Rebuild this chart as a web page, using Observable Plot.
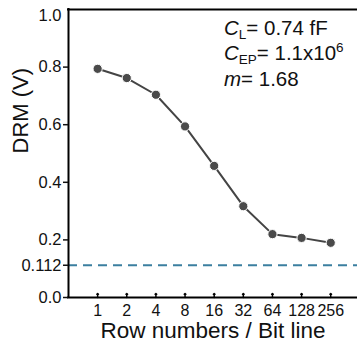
<!DOCTYPE html>
<html>
<head>
<meta charset="utf-8">
<script src="https://cdn.jsdelivr.net/npm/d3@7"></script>
<script src="https://cdn.jsdelivr.net/npm/@observablehq/plot@0.6"></script>
<style>
  html, body { margin: 0; padding: 0; background: #fff; }
  #chart svg { display: block; }
  #chart svg text { font-family: "Liberation Sans", Arimo, sans-serif; }
</style>
</head>
<body>
<div id="chart"></div>
<script>
const rowNumbers = [1, 2, 4, 8, 16, 32, 64, 128, 256];
const drmValues = [0.794, 0.762, 0.704, 0.594, 0.457, 0.317, 0.220, 0.207, 0.190];
const xTicks = [1, 2, 4, 8, 16, 32, 64, 128, 256];
const yTicks = [0.0, 0.112, 0.2, 0.4, 0.6, 0.8];
const yTopTick = [1.0];
const yTickLabels = ["0.0", "0.112", "0.2", "0.4", "0.6", "0.8"];
const yTopLabel = "1.0";
const thresholdValue = [0.112];
const xDomain = [0.5, 484];
const yDomain = [0, 1];
const xTitle = "Row numbers / Bit line";
const yTitle = "DRM (V)";

const data = rowNumbers.map((x, i) => ({x, y: drmValues[i]}));
const fmtY = d => yTickLabels[yTicks.indexOf(d)] ?? String(d);
const FONT = '"Liberation Sans", Arimo, sans-serif';

const plot = Plot.plot({
  width: 357,
  height: 352,
  marginLeft: 68,
  marginRight: 0,
  marginTop: 9,
  marginBottom: 55,
  style: {fontFamily: FONT, color: "#111", background: "#fff"},
  x: {type: "log", base: 2, domain: xDomain},
  y: {domain: yDomain},
  marks: [
    Plot.ruleY(thresholdValue, {stroke: "#3b7fa0", strokeWidth: 2, strokeDasharray: "9,6"}),
    Plot.ruleY(yDomain, {stroke: "#000", strokeWidth: 2, strokeLinecap: "square"}),
    Plot.ruleX([xDomain[0]], {stroke: "#000", strokeWidth: 2, strokeLinecap: "square"}),
    Plot.axisY({ticks: yTicks, tickFormat: fmtY, tickSize: 5, tickPadding: 2, fontSize: 16.5, label: null, strokeWidth: 1.5}),
    Plot.axisY({ticks: yTopTick, tickFormat: () => yTopLabel, tickSize: 0, tickPadding: 7, fontSize: 16.5, label: null, dy: 6}),
    Plot.axisX({ticks: xTicks, tickFormat: d => String(d), tickSize: 0, tickPadding: 7, fontSize: 16, label: null}),
    Plot.vector(xTicks, {x: d => d, y: 0, length: 4, rotate: 0, anchor: "start", stroke: "#000", strokeWidth: 1.5}),
    Plot.line(data, {x: "x", y: "y", stroke: "#444", strokeWidth: 2}),
    Plot.dot(data, {x: "x", y: "y", r: 4.6, fill: "#4a4a4a", stroke: "#fff", strokeWidth: 1}),
    Plot.text([xTitle], {frameAnchor: "bottom", dy: 40, fontSize: 22.5, fill: "#111"}),
    Plot.text([yTitle], {frameAnchor: "left", dx: -48, rotate: -90, fontSize: 22, fill: "#111"})
  ]
});

// annotation block with italic symbols, subscripts and superscript
const svg = d3.select(plot);
const anno = svg.append("g").attr("font-size", 20.5).attr("fill", "#111")
  .attr("text-anchor", "start").attr("font-family", FONT);
const l1 = anno.append("text").attr("x", 224).attr("y", 35);
l1.append("tspan").attr("font-style", "italic").text("C");
l1.append("tspan").attr("font-size", 13.5).attr("dy", 4).text("L");
l1.append("tspan").attr("dy", -4).text("= 0.74 fF");
const l2 = anno.append("text").attr("x", 224).attr("y", 60);
l2.append("tspan").attr("font-style", "italic").text("C");
l2.append("tspan").attr("font-size", 13.5).attr("dy", 4).text("EP");
l2.append("tspan").attr("dy", -4).text("= 1.1x10");
l2.append("tspan").attr("font-size", 13.5).attr("dy", -8).text("6");
const l3 = anno.append("text").attr("x", 224).attr("y", 86);
l3.append("tspan").attr("font-style", "italic").text("m");
l3.append("tspan").text("= 1.68");

document.getElementById("chart").appendChild(plot);
</script>
</body>
</html>
